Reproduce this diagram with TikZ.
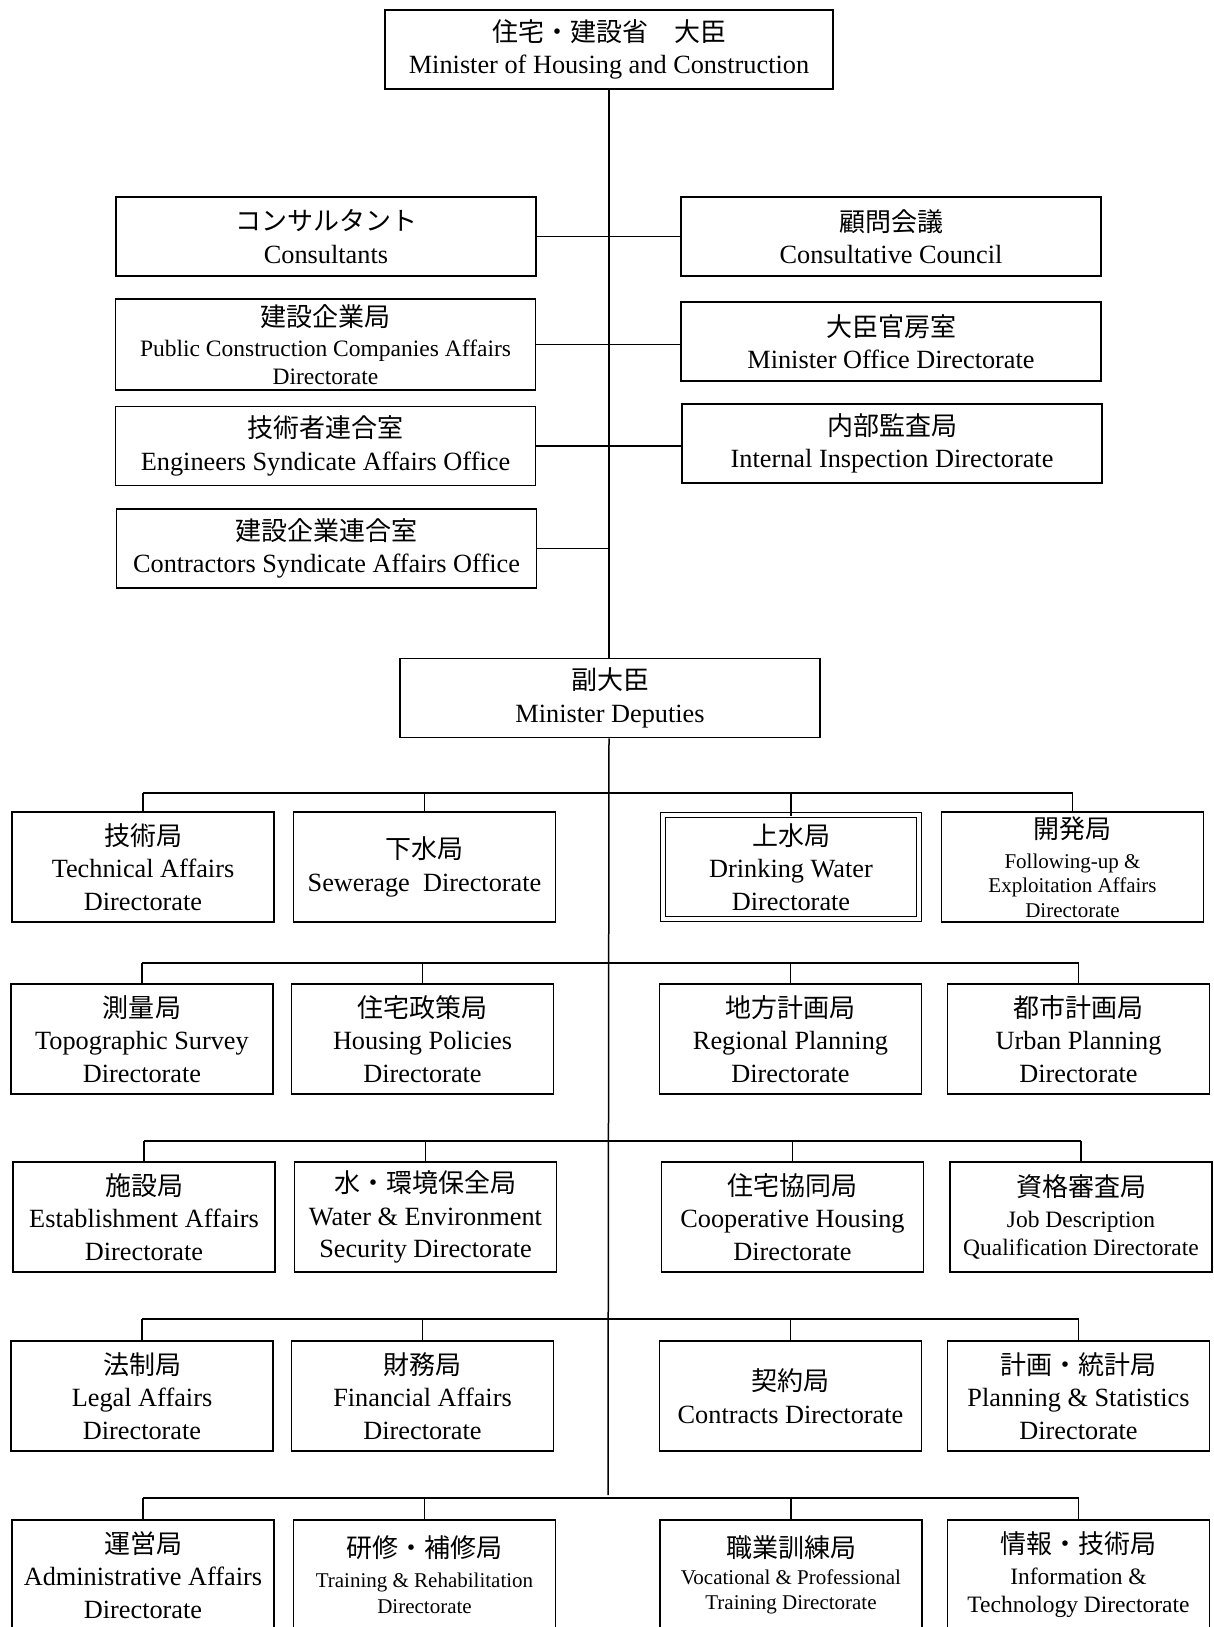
\documentclass[tikz,border=0pt]{standalone}
\usepackage{fontspec}
\setmainfont{Liberation Serif}
\newfontfamily\jpfont{Noto Sans CJK JP}
\newcommand{\jp}[1]{{\jpfont\fontsize{26}{32.5}\selectfont #1}}
\newcommand{\maintext}{\fontsize{26.3}{32.5}\selectfont}
\newcommand{\midtext}{\fontsize{23.5}{28}\selectfont}
\newcommand{\smalltext}{\fontsize{21}{25}\selectfont}

\begin{document}
\begin{tikzpicture}[x=1pt, y=-1pt, line width=1.5pt,
    orgbox/.style={draw, line width=1.6pt, align=center, inner sep=0pt, font=\maintext},
    staffbox/.style={orgbox, minimum width=420pt, minimum height=79pt},
    dirbox/.style={orgbox, minimum width=262pt, minimum height=110pt}]
  \useasboundingbox (0,0) rectangle (1214,1627);

  % minister and staff offices
  \node[staffbox, minimum width=448pt] (MinHC) at (609,49.5) {\jp{住宅・建設省　大臣}\\Minister of Housing and Construction};

  \node[staffbox] (Cons)  at (326,236.5) {\jp{コンサルタント}\\Consultants};
  \node[staffbox] (CCoun) at (891,236.5) {\jp{顧問会議}\\Consultative Council};
  \node[staffbox, minimum height=91pt, font=\midtext] (PubCo) at (325.5,344.5) {\jp{建設企業局}\\[2.5pt]Public Construction Companies Affairs\\Directorate};
  \node[staffbox] (MinOf) at (891,341.5) {\jp{大臣官房室}\\Minister Office Directorate};
  \node[staffbox] (EngSy) at (325.5,446) {\jp{技術者連合室}\\Engineers Syndicate Affairs Office};
  \node[staffbox] (IntIn) at (892,443.5) {\jp{内部監査局}\\Internal Inspection Directorate};
  \node[staffbox] (ConSy) at (326.5,548.5) {\jp{建設企業連合室}\\Contractors Syndicate Affairs Office};

  \node[staffbox] (Deput) at (610,698) {\jp{副大臣}\\Minister Deputies};

  % bus lines of the directorate rows
  \coordinate (R1bus) at (608,793);
  \coordinate (R2bus) at (608,963);
  \coordinate (R3bus) at (608,1141);
  \coordinate (R4bus) at (608,1319);
  \coordinate (R5bus) at (608,1498);

  % row 1
  \node[dirbox] (TechA) at (143,867) {\jp{技術局}\\Technical Affairs\\Directorate};
  \node[dirbox] (Sewer) at (424.5,867) {\jp{下水局}\\Sewerage~ Directorate};
  \node[dirbox, double, double distance=4pt, line width=1.3pt, minimum width=256pt, minimum height=104pt] (DrinW) at (791,867) {\jp{上水局}\\Drinking Water\\Directorate};
  \node[dirbox, font=\fontsize{21}{24.5}\selectfont] (Follo) at (1072.5,867) {\jp{開発局}\\[5.5pt]Following-up \&\\Exploitation Affairs\\Directorate};

  % row 2
  \node[dirbox] (Topo)  at (142,1039) {\jp{測量局}\\Topographic Survey\\Directorate};
  \node[dirbox] (HouPo) at (422.5,1039) {\jp{住宅政策局}\\Housing Policies\\Directorate};
  \node[dirbox] (RegPl) at (790.5,1039) {\jp{地方計画局}\\Regional Planning\\Directorate};
  \node[dirbox] (UrbPl) at (1078.5,1039) {\jp{都市計画局}\\Urban Planning\\Directorate};

  % row 3
  \node[dirbox] (Estab) at (144,1217) {\jp{施設局}\\Establishment Affairs\\Directorate};
  \node[dirbox] (WatEn) at (425.5,1217) {\jp{水・環境保全局}\\Water \& Environment\\Security Directorate};
  \node[dirbox] (CoopH) at (792.5,1217) {\jp{住宅協同局}\\Cooperative Housing\\Directorate};
  \node[dirbox, font=\midtext] (JobDe) at (1081,1217) {\jp{資格審査局}\\[3pt]Job Description\\Qualification Directorate};

  % row 4
  \node[dirbox] (Legal) at (142,1396) {\jp{法制局}\\Legal Affairs\\Directorate};
  \node[dirbox] (Finan) at (422.5,1396) {\jp{財務局}\\Financial Affairs\\Directorate};
  \node[dirbox] (Contr) at (790.5,1396) {\jp{契約局}\\Contracts Directorate};
  \node[dirbox] (PlanS) at (1078.5,1396) {\jp{計画・統計局}\\Planning \& Statistics\\Directorate};

  % row 5
  \node[dirbox] (Admin) at (143,1575) {\jp{運営局}\\Administrative Affairs\\Directorate};
  \node[dirbox, font=\fontsize{21}{26}\selectfont] (Train) at (424.5,1575) {\jp{研修・補修局}\\[4pt]Training \& Rehabilitation\\Directorate};
  \node[dirbox, font=\smalltext] (Vocat) at (791,1575) {\jp{職業訓練局}\\[2pt]Vocational \& Professional\\Training Directorate};
  \node[dirbox, font=\midtext] (InfoT) at (1078.5,1575) {\jp{情報・技術局}\\[3pt]Information \&\\Technology Directorate};

  % trunk
  \draw (MinHC.south) -- (MinHC.south |- Deput.north);
  \draw (MinHC.south |- Deput.south) -- ([yshift=3pt]R5bus);

  % staff connections
  \draw (Cons.east) -- (Cons.east -| CCoun.west);
  \draw (PubCo.east) -- (PubCo.east -| MinOf.west);
  \draw (EngSy.east) -- (EngSy.east -| IntIn.west);
  \draw (ConSy.east) -- (ConSy.east -| MinHC.south);

  % buses and drops
  \draw (TechA.north |- R1bus) -- (Follo.north |- R1bus);
  \draw (TechA.north |- R1bus) -- (TechA.north);
  \draw (Sewer.north |- R1bus) -- (Sewer.north);
  \draw (DrinW.north |- R1bus) -- ([yshift=-2pt]DrinW.north);
  \draw (Follo.north |- R1bus) -- (Follo.north);

  \draw (Topo.north |- R2bus) -- (UrbPl.north |- R2bus);
  \draw (Topo.north |- R2bus) -- (Topo.north);
  \draw (HouPo.north |- R2bus) -- (HouPo.north);
  \draw (RegPl.north |- R2bus) -- (RegPl.north);
  \draw (UrbPl.north |- R2bus) -- (UrbPl.north);

  \draw (Estab.north |- R3bus) -- (JobDe.north |- R3bus);
  \draw (Estab.north |- R3bus) -- (Estab.north);
  \draw (WatEn.north |- R3bus) -- (WatEn.north);
  \draw (CoopH.north |- R3bus) -- (CoopH.north);
  \draw (JobDe.north |- R3bus) -- (JobDe.north);

  \draw (Legal.north |- R4bus) -- (PlanS.north |- R4bus);
  \draw (Legal.north |- R4bus) -- (Legal.north);
  \draw (Finan.north |- R4bus) -- (Finan.north);
  \draw (Contr.north |- R4bus) -- (Contr.north);
  \draw (PlanS.north |- R4bus) -- (PlanS.north);

  \draw (Admin.north |- R5bus) -- (InfoT.north |- R5bus);
  \draw (Admin.north |- R5bus) -- (Admin.north);
  \draw (Train.north |- R5bus) -- (Train.north);
  \draw (Vocat.north |- R5bus) -- (Vocat.north);
  \draw (InfoT.north |- R5bus) -- (InfoT.north);
\end{tikzpicture}
\end{document}
